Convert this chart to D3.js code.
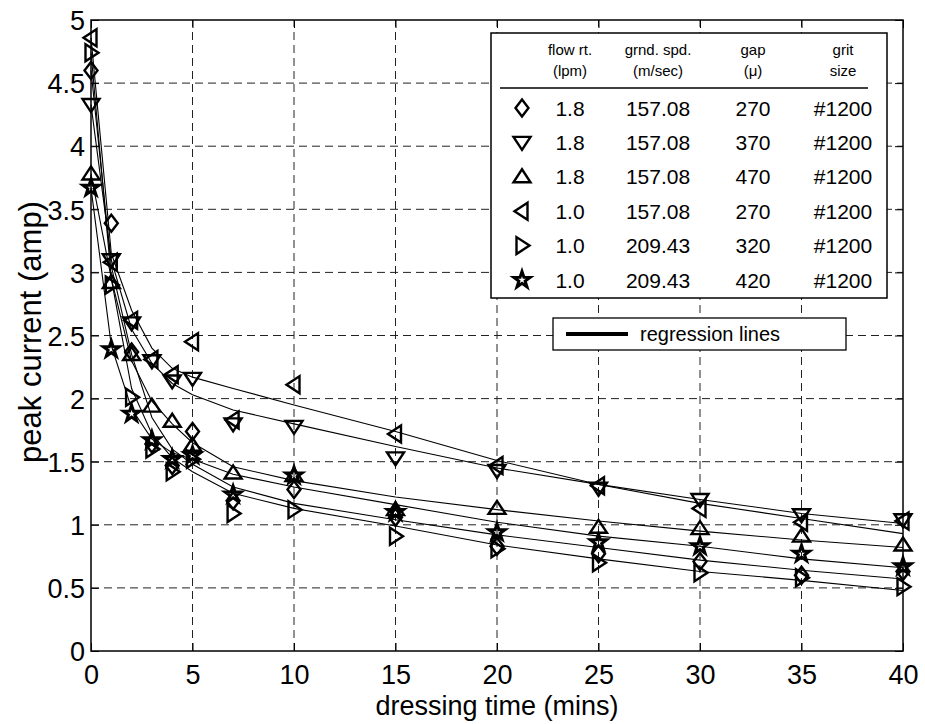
<!DOCTYPE html>
<html>
<head>
<meta charset="utf-8">
<script src="https://cdn.jsdelivr.net/npm/d3@7/dist/d3.min.js"></script>
<style>
  body { margin: 0; background: #fff; }
  text { font-family: "Liberation Sans", Arial, Helvetica, sans-serif; fill: #000; }
</style>
</head>
<body>
<div id="chart"></div>
<script>
// dressing time (mins)
const times = [0, 1, 2, 3, 4, 5, 7, 10, 15, 20, 25, 30, 35, 40];

// measured peak current (amp)
const diamondVals = [4.60, 3.39, 2.37, 1.64, 1.47, 1.74, 1.19, 1.28, 1.06, 0.83, 0.77, 0.71, 0.60, 0.63];
const downVals    = [4.33, 3.10, 2.60, 2.30, 2.14, 2.16, 1.80, 1.78, 1.53, 1.43, 1.29, 1.20, 1.08, 1.04];
const upVals      = [3.78, 2.92, 2.35, 1.94, 1.82, 1.63, 1.41, 1.39, 1.12, 1.13, 0.98, 0.97, 0.91, 0.84];
const leftVals    = [4.86, 3.08, 2.62, 2.31, 2.19, 2.45, 1.83, 2.11, 1.72, 1.47, 1.31, 1.13, 1.02, 1.03];
const rightVals   = [4.74, 2.90, 2.01, 1.60, 1.42, 1.52, 1.09, 1.12, 0.91, 0.81, 0.70, 0.62, 0.58, 0.51];
const starVals    = [3.67, 2.39, 1.88, 1.67, 1.52, 1.55, 1.24, 1.39, 1.10, 0.94, 0.86, 0.83, 0.77, 0.67];

// regression lines at the same times
const diamondFit = [4.60, 3.05, 2.35, 1.85, 1.60, 1.48, 1.30, 1.17, 1.04, 0.92, 0.82, 0.72, 0.64, 0.57];
const downFit    = [4.33, 3.10, 2.55, 2.28, 2.12, 2.03, 1.91, 1.80, 1.62, 1.45, 1.32, 1.20, 1.09, 1.01];
const upFit      = [3.78, 2.95, 2.30, 1.98, 1.80, 1.65, 1.46, 1.35, 1.22, 1.12, 1.03, 0.95, 0.88, 0.82];
const leftFit    = [4.86, 3.15, 2.70, 2.40, 2.24, 2.17, 2.08, 1.95, 1.74, 1.51, 1.32, 1.17, 1.05, 0.93];
const rightFit   = [4.74, 2.95, 2.08, 1.72, 1.53, 1.42, 1.25, 1.13, 0.99, 0.84, 0.73, 0.63, 0.56, 0.48];
const starFit    = [3.67, 2.42, 1.92, 1.68, 1.57, 1.52, 1.40, 1.30, 1.16, 1.02, 0.91, 0.83, 0.73, 0.66];

// legend table
const markerNames = ["diamond", "down", "up", "left", "right", "star"];
const flowRates   = ["1.8", "1.8", "1.8", "1.0", "1.0", "1.0"];
const grindSpeeds = ["157.08", "157.08", "157.08", "157.08", "209.43", "209.43"];
const gaps        = ["270", "370", "470", "270", "320", "420"];
const gritSizes   = ["#1200", "#1200", "#1200", "#1200", "#1200", "#1200"];

const xTicks = [0, 5, 10, 15, 20, 25, 30, 35, 40];
const yTicks = [0, 0.5, 1, 1.5, 2, 2.5, 3, 3.5, 4, 4.5, 5];

const series = [
  {marker: "diamond", vals: diamondVals, fit: diamondFit},
  {marker: "down", vals: downVals, fit: downFit},
  {marker: "up", vals: upVals, fit: upFit},
  {marker: "left", vals: leftVals, fit: leftFit},
  {marker: "right", vals: rightVals, fit: rightFit},
  {marker: "star", vals: starVals, fit: starFit}
];

const width = 925, height = 724;
const plot = {left: 91, right: 903, top: 20, bottom: 651};

const svg = d3.select("#chart").append("svg")
  .attr("width", width)
  .attr("height", height);

svg.append("rect").attr("width", width).attr("height", height).attr("fill", "#fff");

const x = d3.scaleLinear().domain([0, 40]).range([plot.left, plot.right]);
const y = d3.scaleLinear().domain([0, 5]).range([plot.bottom, plot.top]);

// marker shapes, drawn around 0,0
function markerPath(kind) {
  const p = d3.path();
  if (kind === "diamond") {
    p.moveTo(0, -8.5); p.lineTo(6.5, 0); p.lineTo(0, 8.5); p.lineTo(-6.5, 0); p.closePath();
  } else if (kind === "down") {
    p.moveTo(-8.5, -5.5); p.lineTo(8.5, -5.5); p.lineTo(0, 7.5); p.closePath();
  } else if (kind === "up") {
    p.moveTo(-8.5, 5.5); p.lineTo(8.5, 5.5); p.lineTo(0, -7.5); p.closePath();
  } else if (kind === "left") {
    p.moveTo(5.5, -8.5); p.lineTo(5.5, 8.5); p.lineTo(-7.5, 0); p.closePath();
  } else if (kind === "right") {
    p.moveTo(-5.5, -8.5); p.lineTo(-5.5, 8.5); p.lineTo(7.5, 0); p.closePath();
  } else {
    for (let i = 0; i < 10; i++) {
      const r = i % 2 === 0 ? 8.5 : 3.3;
      const a = -Math.PI / 2 + i * Math.PI / 5;
      if (i === 0) p.moveTo(r * Math.cos(a), r * Math.sin(a));
      else p.lineTo(r * Math.cos(a), r * Math.sin(a));
    }
    p.closePath();
  }
  return p.toString();
}

// grid
const grid = svg.append("g").attr("stroke", "#222").attr("stroke-width", 1)
  .attr("stroke-dasharray", "8,5").attr("fill", "none");
xTicks.slice(1, -1).forEach(t => {
  grid.append("line").attr("x1", x(t)).attr("x2", x(t)).attr("y1", plot.bottom).attr("y2", plot.top);
});
yTicks.slice(1, -1).forEach(t => {
  grid.append("line").attr("x1", plot.left).attr("x2", plot.right).attr("y1", y(t)).attr("y2", y(t));
});

// axes (ticks inside, like the original)
const xAxis = svg.append("g").attr("transform", `translate(0,${plot.bottom})`)
  .call(d3.axisBottom(x).tickValues(xTicks).tickFormat(d3.format("d")).tickSizeInner(-8).tickSizeOuter(0).tickPadding(14));
const yAxis = svg.append("g").attr("transform", `translate(${plot.left},0)`)
  .call(d3.axisLeft(y).tickValues(yTicks).tickFormat(d => d).tickSizeInner(-8).tickSizeOuter(0).tickPadding(6));
svg.append("g").attr("transform", `translate(0,${plot.top})`)
  .call(d3.axisTop(x).tickValues(xTicks).tickFormat("").tickSizeInner(-8).tickSizeOuter(0));
svg.append("g").attr("transform", `translate(${plot.right},0)`)
  .call(d3.axisRight(y).tickValues(yTicks).tickFormat("").tickSizeInner(-8).tickSizeOuter(0));
svg.selectAll(".domain").remove();
svg.selectAll(".tick line").attr("stroke", "#000");
xAxis.selectAll("text").attr("font-size", 27).attr("dy", "0.71em").attr("font-family", "Liberation Sans, Arial");
yAxis.selectAll("text").attr("font-size", 27).attr("dy", "0.36em").attr("dx", "0");

// frame
svg.append("rect")
  .attr("x", plot.left).attr("y", plot.top)
  .attr("width", plot.right - plot.left).attr("height", plot.bottom - plot.top)
  .attr("fill", "none").attr("stroke", "#000").attr("stroke-width", 1.5);

// regression lines
const line = d3.line().x((d, i) => x(times[i])).y(d => y(d)).curve(d3.curveLinear);
svg.append("g").selectAll("path").data(series).join("path")
  .attr("d", s => line(s.fit))
  .attr("fill", "none").attr("stroke", "#000").attr("stroke-width", 1.1);

// data markers
series.forEach(s => {
  svg.append("g").selectAll("path").data(s.vals).join("path")
    .attr("transform", (d, i) => `translate(${x(times[i])},${y(d)})`)
    .attr("d", markerPath(s.marker))
    .attr("fill", "none")
    .attr("stroke", "#000")
    .attr("stroke-width", s.marker === "star" ? 3 : 2.4)
    .attr("stroke-linejoin", "miter");
});

// axis titles
svg.append("text").attr("x", (plot.left + plot.right) / 2).attr("y", 715)
  .attr("text-anchor", "middle").attr("font-size", 27).text("dressing time (mins)");
svg.append("text").attr("transform", `translate(41,332) rotate(-90)`)
  .attr("text-anchor", "middle").attr("font-size", 31).text("peak current (amp)");

// legend table
const leg = svg.append("g");
leg.append("rect").attr("x", 491).attr("y", 33).attr("width", 396).attr("height", 265)
  .attr("fill", "#fff").attr("stroke", "#000").attr("stroke-width", 1.5);
const cols = [570, 658, 753, 843];
const head1 = ["flow rt.", "grnd. spd.", "gap", "grit"];
const head2 = ["(lpm)", "(m/sec)", "(\u03bc)", "size"];
head1.forEach((h, i) => leg.append("text").attr("x", cols[i]).attr("y", 55)
  .attr("text-anchor", "middle").attr("font-size", 15).text(h));
head2.forEach((h, i) => leg.append("text").attr("x", cols[i]).attr("y", 76)
  .attr("text-anchor", "middle").attr("font-size", 15).text(h));
leg.append("line").attr("x1", 500).attr("x2", 868).attr("y1", 88).attr("y2", 88)
  .attr("stroke", "#000").attr("stroke-width", 1.3);
const rowY = d3.scaleLinear().domain([0, 5]).range([108, 280]);
markerNames.forEach((m, i) => {
  const cy = rowY(i);
  leg.append("path").attr("transform", `translate(522,${cy})`)
    .attr("d", markerPath(m)).attr("fill", "none").attr("stroke", "#000")
    .attr("stroke-width", m === "star" ? 3 : 2.4);
  [flowRates[i], grindSpeeds[i], gaps[i], gritSizes[i]].forEach((v, j) => {
    leg.append("text").attr("x", cols[j]).attr("y", cy).attr("dy", "0.36em")
      .attr("text-anchor", "middle").attr("font-size", 21).text(v);
  });
});

// regression line key
leg.append("rect").attr("x", 553).attr("y", 318).attr("width", 293).attr("height", 32)
  .attr("fill", "#fff").attr("stroke", "#000").attr("stroke-width", 1.3);
leg.append("line").attr("x1", 566).attr("x2", 628).attr("y1", 334).attr("y2", 334)
  .attr("stroke", "#000").attr("stroke-width", 4);
leg.append("text").attr("x", 640).attr("y", 334).attr("dy", "0.36em")
  .attr("font-size", 20).text("regression lines");
</script>
</body>
</html>
